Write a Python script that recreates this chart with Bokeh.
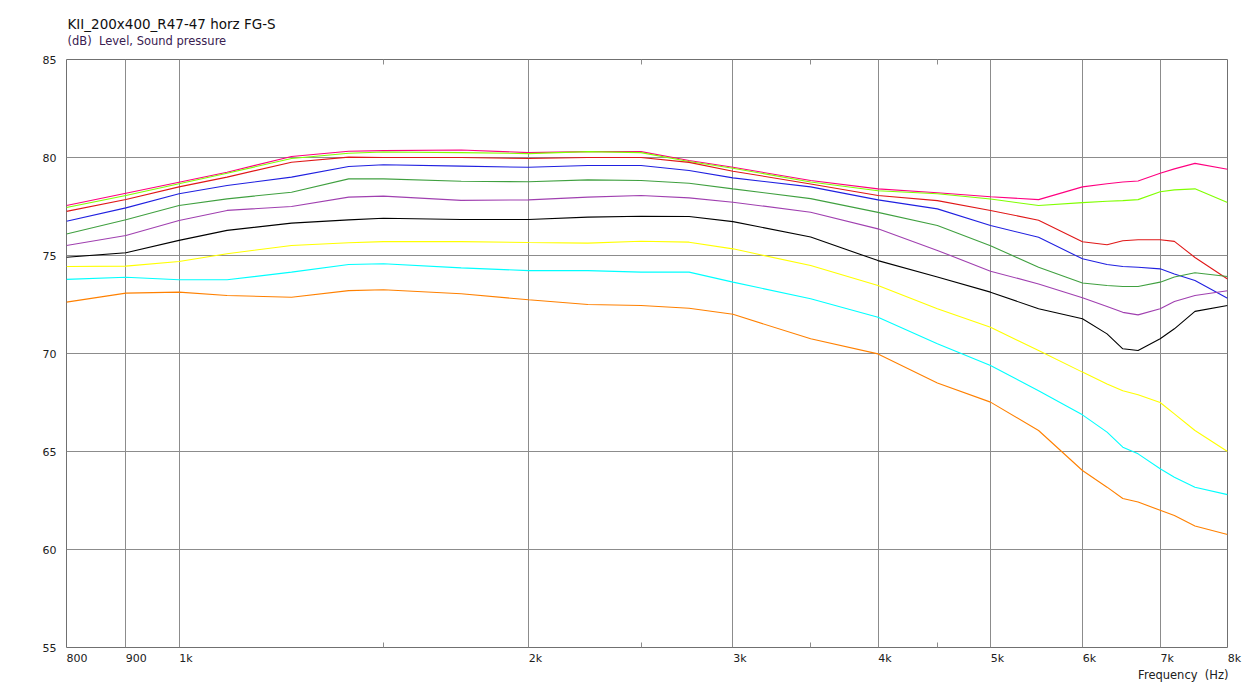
from bokeh.plotting import figure
from bokeh.models import FixedTicker, LogAxis, Range1d, Title
from bokeh.embed import file_html
from bokeh.resources import INLINE

# ---- data ----
freq = [800, 900, 1000, 1100, 1250, 1400, 1500, 1750, 2000, 2250, 2500, 2750,
        3000, 3500, 4000, 4500, 5000, 5500, 6000, 6300, 6500, 6700, 7000, 7200, 7500, 8000]

pink = [77.55, 78.18, 78.74, 79.25, 80.05, 80.32, 80.35, 80.38, 80.25, 80.3, 80.3, 79.85,
        79.5, 78.83, 78.4, 78.2, 78.0, 77.85, 78.5, 78.66, 78.75, 78.8, 79.2, 79.42, 79.7, 79.4]
lime = [77.45, 78.06, 78.66, 79.2, 79.95, 80.22, 80.28, 80.25, 80.2, 80.3, 80.25, 79.8,
        79.45, 78.75, 78.3, 78.15, 77.88, 77.55, 77.7, 77.77, 77.8, 77.85, 78.25, 78.35, 78.4, 77.7]
red = [77.25, 77.86, 78.5, 79.0, 79.76, 80.02, 80.0, 80.0, 79.95, 80.0, 80.0, 79.75,
       79.3, 78.65, 78.06, 77.8, 77.3, 76.8, 75.7, 75.55, 75.75, 75.8, 75.8, 75.72, 74.9, 73.8]
blue = [76.75, 77.43, 78.15, 78.57, 79.0, 79.54, 79.63, 79.56, 79.5, 79.59, 79.59, 79.34,
        78.96, 78.5, 77.84, 77.38, 76.53, 75.93, 74.83, 74.54, 74.44, 74.4, 74.32, 74.06, 73.72, 72.82]
green = [76.1, 76.82, 77.55, 77.89, 78.23, 78.91, 78.91, 78.79, 78.76, 78.86, 78.83, 78.69,
         78.4, 77.9, 77.2, 76.53, 75.5, 74.4, 73.6, 73.47, 73.42, 73.42, 73.64, 73.9, 74.12, 73.93]
purple = [75.51, 76.02, 76.79, 77.3, 77.5, 77.98, 78.03, 77.81, 77.84, 77.98, 78.06, 77.94,
          77.72, 77.21, 76.36, 75.26, 74.2, 73.55, 72.84, 72.4, 72.1, 71.97, 72.28, 72.65, 72.96, 73.2]
black = [74.91, 75.14, 75.77, 76.28, 76.65, 76.82, 76.9, 76.84, 76.84, 76.96, 77.0, 76.99,
         76.73, 75.94, 74.74, 73.9, 73.13, 72.28, 71.77, 71.0, 70.24, 70.15, 70.75, 71.26, 72.15, 72.45]
yellow = [74.44, 74.46, 74.69, 75.09, 75.51, 75.65, 75.71, 75.71, 75.66, 75.63, 75.73, 75.68,
          75.34, 74.49, 73.47, 72.28, 71.34, 70.15, 69.05, 68.45, 68.1, 67.9, 67.5, 66.92, 66.07, 65.0]
cyan = [73.78, 73.89, 73.76, 73.76, 74.15, 74.54, 74.58, 74.37, 74.23, 74.23, 74.15, 74.15,
        73.64, 72.79, 71.85, 70.5, 69.39, 68.1, 66.87, 65.99, 65.22, 64.88, 64.12, 63.69, 63.18, 62.8]
orange = [72.62, 73.08, 73.13, 72.96, 72.87, 73.21, 73.25, 73.05, 72.74, 72.5, 72.45, 72.31,
          72.0, 70.75, 69.98, 68.49, 67.52, 66.07, 64.03, 63.18, 62.6, 62.42, 62.0, 61.73, 61.2, 60.77]

series = [pink, lime, red, blue, green, purple, black, yellow, cyan, orange]
colors = ["#FF0080", "#80FF00", "#E01818", "#2020E0", "#40A040", "#A040B0",
          "#000000", "#FFFF00", "#00FFFF", "#FF8000"]

x_ticks = [800, 900, 1000, 2000, 3000, 4000, 5000, 6000, 7000, 8000]
x_tick_labels = ["800", "900", "1k", "2k", "3k", "4k", "5k", "6k", "7k", "8k"]
x_grid = [900, 1000, 2000, 3000, 4000, 5000, 6000, 7000]
x_minor = [1500, 2500, 3500, 4500]
y_ticks = [55, 60, 65, 70, 75, 80, 85]

title_text = "KII_200x400_R47-47 horz FG-S"
subtitle_text = "(dB)\u00a0 Level, Sound pressure"
xlabel_text = "Frequency\u00a0 (Hz)"

FONT = "DejaVu Sans"
TXT = "#202020"
NBSP = "\u00a0"


def left_pad(s):
    # leading no-break spaces so the centred tick label starts at its tick
    return NBSP * (2 * len(s)) + s


p = figure(width=1251, height=684, x_axis_type="log",
           x_range=Range1d(800, 8000), y_range=Range1d(55, 85),
           output_backend="svg", toolbar_location=None,
           min_border_left=66, min_border_right=24,
           min_border_top=59, min_border_bottom=37)
p.background_fill_color = "white"
p.border_fill_color = "white"
p.outline_line_color = "#707070"
p.outline_line_width = 1

# grids
p.xgrid.ticker = FixedTicker(ticks=x_grid)
p.ygrid.ticker = FixedTicker(ticks=y_ticks)
for g in (p.xgrid[0], p.ygrid[0]):
    g.grid_line_color = "#8c8c8c"
    g.grid_line_width = 1

# bottom axis: labels + minor ticks inward
xa = p.xaxis[0]
xa.ticker = FixedTicker(ticks=x_ticks, minor_ticks=x_minor)
xa.major_label_overrides = {t: left_pad(s) for t, s in zip(x_ticks, x_tick_labels)}
xa.axis_line_color = None
xa.major_tick_in = 0
xa.major_tick_out = 0
xa.minor_tick_in = 5
xa.minor_tick_out = 0
xa.minor_tick_line_color = "#8c8c8c"
xa.major_label_standoff = 4
xa.major_label_text_font = FONT
xa.major_label_text_font_size = "11px"
xa.major_label_text_color = TXT

top = LogAxis(ticker=FixedTicker(ticks=[], minor_ticks=x_minor))
top.axis_line_color = None
top.major_tick_in = 0
top.major_tick_out = 0
top.minor_tick_in = 5
top.minor_tick_out = 0
top.minor_tick_line_color = "#8c8c8c"
top.major_label_text_font_size = "0px"
p.add_layout(top, "above")

# left axis
ya = p.yaxis[0]
ya.ticker = FixedTicker(ticks=y_ticks)
ya.axis_line_color = None
ya.major_tick_in = 0
ya.major_tick_out = 0
ya.minor_tick_in = 0
ya.minor_tick_out = 0
ya.major_label_standoff = 10
ya.major_label_text_font = FONT
ya.major_label_text_font_size = "11px"
ya.major_label_text_color = TXT

# curves
for ys, c in zip(series, colors):
    p.line(freq, ys, line_color=c, line_width=1.1)

# titles
p.add_layout(Title(text=subtitle_text, align="left", offset=1, standoff=23,
                   text_font=FONT, text_font_size="11.5px", text_font_style="normal",
                   text_color="#3a2050"), "above")
p.add_layout(Title(text=title_text, align="left", offset=1, standoff=-23,
                   text_font=FONT, text_font_size="13.5px", text_font_style="normal",
                   text_color="#101010"), "above")
p.add_layout(Title(text=xlabel_text, align="right", offset=-1, standoff=0,
                   vertical_align="top",
                   text_font=FONT, text_font_size="11.5px", text_font_style="normal",
                   text_color=TXT), "below")

open("out.html", "w").write(file_html(p, INLINE))
